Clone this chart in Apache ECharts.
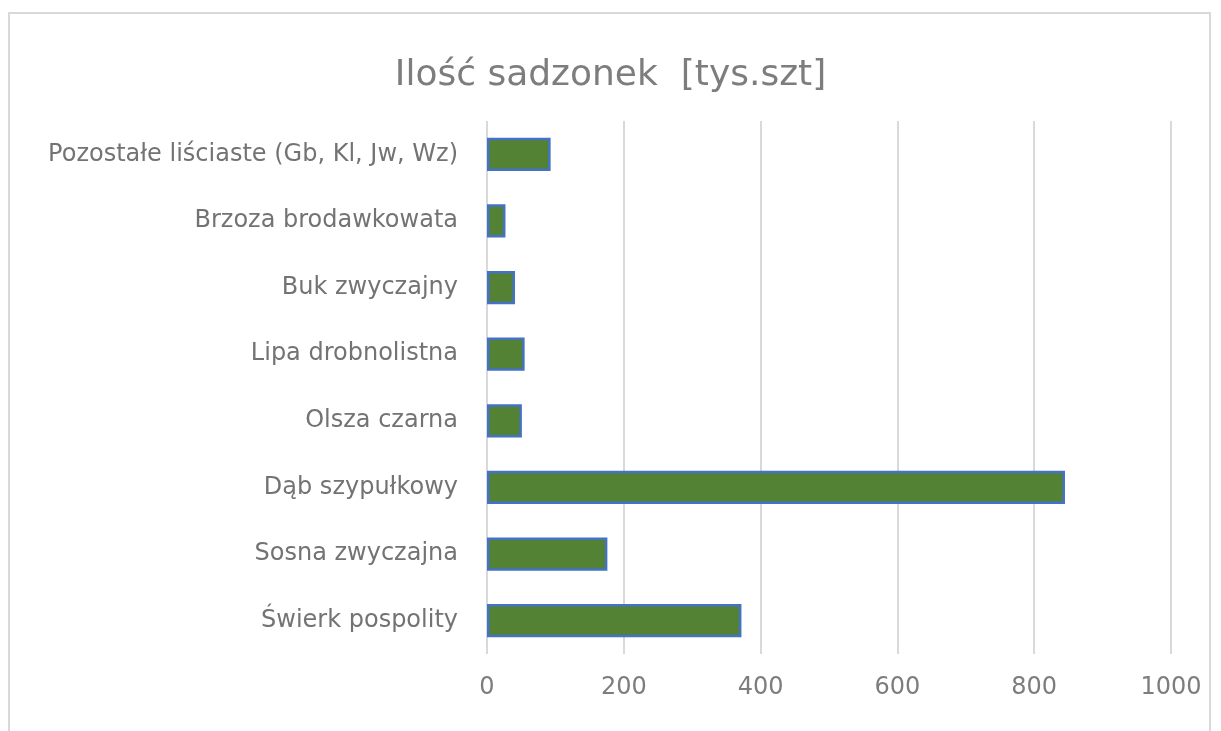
<!DOCTYPE html>
<html>
<head>
<meta charset="utf-8">
<script src="https://cdn.jsdelivr.net/npm/echarts@6/dist/echarts.min.js"></script>
<style>
  html, body { margin: 0; padding: 0; background: #fff; }
  #frame {
    position: absolute; left: 8px; top: 12px; width: 1203px; height: 740px;
    border: 2px solid #d9d9d9; box-sizing: border-box;
  }
  #main { position: absolute; left: 0; top: 0; width: 1221px; height: 731px; }
</style>
</head>
<body>
<div id="frame"></div>
<div id="main"></div>
<script>
// kategorie od dołu do góry (tak jak rysuje oś kategorii)
var gatunki = [
  "Świerk pospolity",
  "Sosna zwyczajna",
  "Dąb szypułkowy",
  "Olsza czarna",
  "Lipa drobnolistna",
  "Buk zwyczajny",
  "Brzoza brodawkowata",
  "Pozostałe liściaste (Gb, Kl, Jw, Wz)"
];
var sadzonki = [372, 176, 845, 51, 55, 41, 27, 93];
var osX = { min: 0, max: 1000, interval: 200 };

var myChart = echarts.init(document.getElementById("main"));
myChart.setOption({
  animation: false,
  title: {
    text: "Ilość sadzonek  [tys.szt]",
    left: "center",
    top: 53,
    textStyle: {
      fontFamily: "DejaVu Sans",
      fontWeight: "normal",
      fontSize: 36,
      color: "#7d7d7d"
    }
  },
  grid: {
    left: 487,
    top: 121,
    width: 684,
    height: 533
  },
  xAxis: {
    type: "value",
    min: osX.min,
    max: osX.max,
    interval: osX.interval,
    axisLine: { show: false },
    axisTick: { show: false },
    axisLabel: {
      fontFamily: "DejaVu Sans",
      fontSize: 24,
      color: "#7d7d7d",
      margin: 22,
      formatter: function (v) { return String(v); }
    },
    splitLine: {
      lineStyle: { color: "#d9d9d9", width: 2 }
    }
  },
  yAxis: {
    type: "category",
    data: gatunki,
    axisLine: { show: false },
    axisTick: { show: false },
    axisLabel: {
      fontFamily: "DejaVu Sans",
      fontSize: 24,
      color: "#737373",
      margin: 29
    }
  },
  series: [
    {
      name: "Ilość sadzonek",
      type: "bar",
      data: sadzonki,
      barCategoryGap: "50%",
      itemStyle: {
        color: "#548235",
        borderColor: "#4472c4",
        borderWidth: 2.5
      }
    }
  ]
});
</script>
</body>
</html>
